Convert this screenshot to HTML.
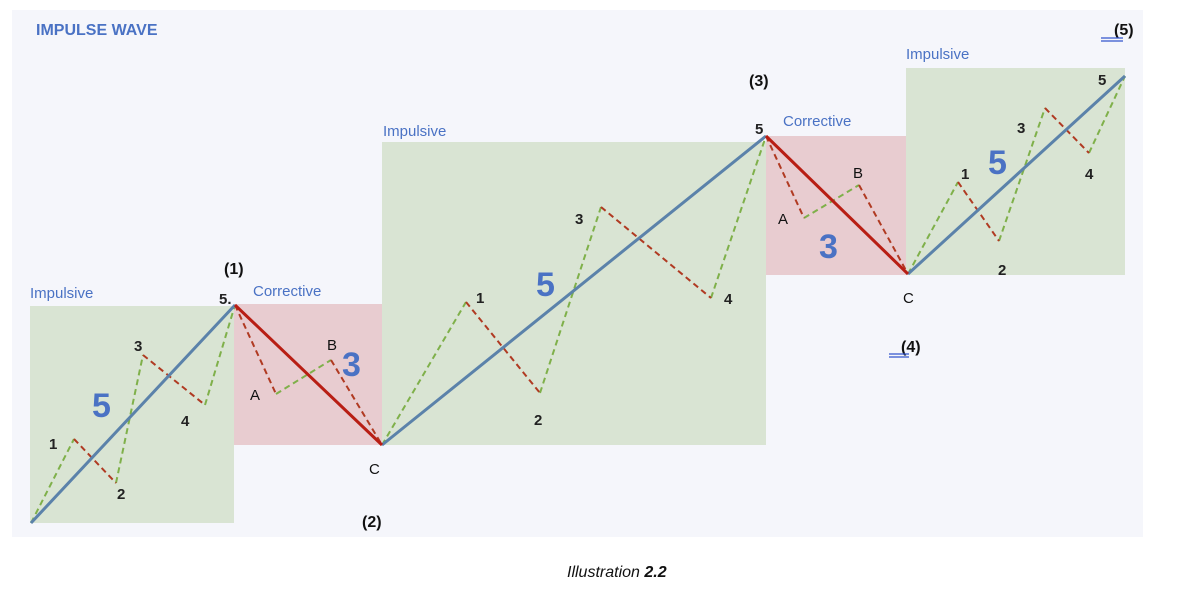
<!DOCTYPE html>
<html><head><style>
body{margin:0;background:#fff;width:1190px;height:588px;overflow:hidden;font-family:"Liberation Sans",sans-serif}
</style></head><body>
<svg width="1190" height="588" xmlns="http://www.w3.org/2000/svg" font-family="Liberation Sans, sans-serif">
<rect x="12" y="10" width="1131" height="527" fill="#f5f6fb"/>
<rect x="30" y="306" width="204" height="217" fill="#d9e4d3"/>
<rect x="234" y="304" width="148" height="141" fill="#e8ccd0"/>
<rect x="382" y="142" width="384" height="303" fill="#d9e4d3"/>
<rect x="766" y="136" width="140" height="139" fill="#e8ccd0"/>
<rect x="906" y="68" width="219" height="207" fill="#d9e4d3"/>
<g fill="none" stroke-width="2" stroke-dasharray="6,4">
<g stroke="#7fb04a">
<path d="M31 523L74 439M116 483L143 355M205 405L235 305"/>
<path d="M276 394L331 360"/>
<path d="M382 445L466 302M540 393L601 207M711 298L766 136"/>
<path d="M804 218L859 185"/>
<path d="M908 274L958 182M999 241L1045 108M1089 153L1125 76"/>
</g>
<g stroke="#b03a22">
<path d="M74 439L116 483M143 355L205 405"/>
<path d="M235 305L276 394M331 360L382 445"/>
<path d="M466 302L540 393M601 207L711 298"/>
<path d="M766 136L804 218M859 185L908 274"/>
<path d="M958 182L999 241M1045 108L1089 153"/>
</g>
</g>
<g stroke="#5b82aa" stroke-width="3" fill="none">
<path d="M31 523L235 305M382 445L766 136M908 274L1125 76"/>
</g>
<g stroke="#b81e14" stroke-width="3" fill="none">
<path d="M235 305L382 445M766 136L908 274"/>
</g>
<g font-size="15" fill="#4a72c4">
<text x="30" y="298">Impulsive</text>
<text x="253" y="296">Corrective</text>
<text x="383" y="136">Impulsive</text>
<text x="783" y="126">Corrective</text>
<text x="906" y="59">Impulsive</text>
</g>
<text x="36" y="35" font-size="16" font-weight="bold" fill="#4a72c4">IMPULSE WAVE</text>
<g font-size="34" font-weight="bold" fill="#4a72c4">
<text x="92" y="417">5</text>
<text x="342" y="376">3</text>
<text x="536" y="296">5</text>
<text x="819" y="258">3</text>
<text x="988" y="174">5</text>
</g>
<g font-size="15" font-weight="bold" fill="#222">
<text x="49" y="449">1</text><text x="117" y="499">2</text><text x="134" y="351">3</text><text x="181" y="426">4</text><text x="219" y="304">5.</text>
<text x="476" y="303">1</text><text x="534" y="425">2</text><text x="575" y="224">3</text><text x="724" y="304">4</text><text x="755" y="134">5</text>
<text x="961" y="179">1</text><text x="998" y="275">2</text><text x="1017" y="133">3</text><text x="1085" y="179">4</text><text x="1098" y="85">5</text>
</g>
<g font-size="16" font-weight="bold" fill="#111">
<text x="224" y="274">(1)</text><text x="362" y="527">(2)</text><text x="749" y="86">(3)</text><text x="901" y="352">(4)</text><text x="1114" y="35">(5)</text>
</g>
<g font-size="15" fill="#111">
<text x="250" y="400">A</text><text x="327" y="350">B</text><text x="369" y="474">C</text>
<text x="778" y="224">A</text><text x="853" y="178">B</text><text x="903" y="303">C</text>
</g>
<g stroke="#3355cc" stroke-width="1.3">
<path d="M889 354H909M889 357H909M1101 38H1123M1101 41H1123"/>
</g>
<text x="567" y="577" font-size="16" font-style="italic" fill="#111">Illustration <tspan font-weight="bold">2.2</tspan></text>
</svg>
</body></html>
